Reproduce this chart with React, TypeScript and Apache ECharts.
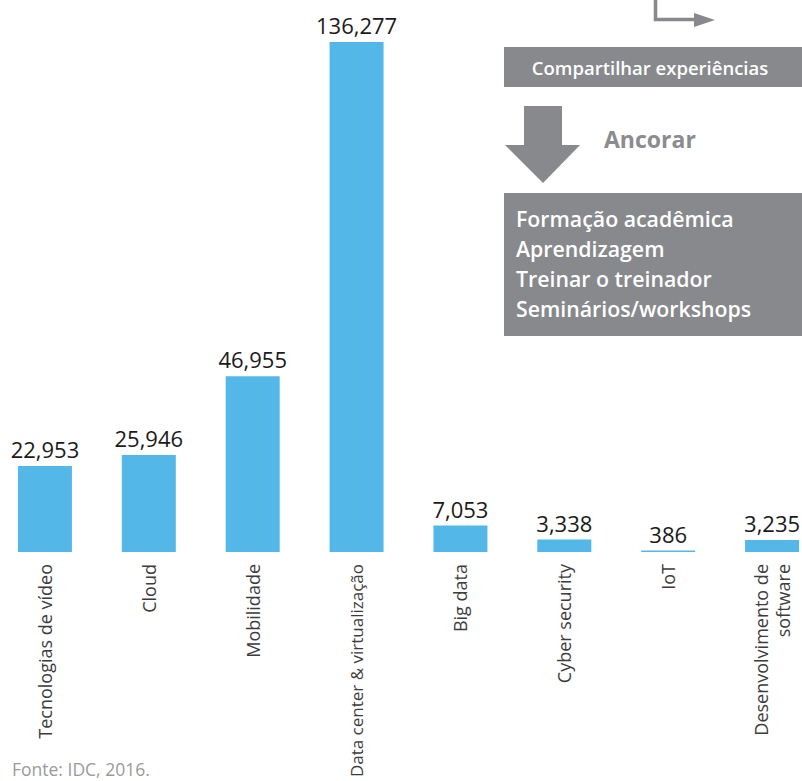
import React, { useEffect, useRef } from "react";
import * as echarts from "echarts";

const categories = [
  "Tecnologias de vídeo",
  "Cloud",
  "Mobilidade",
  "Data center & virtualização",
  "Big data",
  "Cyber security",
  "IoT",
  "Desenvolvimento de\nsoftware",
];
const values = [22953, 25946, 46955, 136277, 7053, 3338, 386, 3235];
const sourceNote = "Fonte: IDC, 2016.";
const boxTopText = "Compartilhar experiências";
const arrowText = "Ancorar";
const boxLines = [
  "Formação acadêmica",
  "Aprendizagem",
  "Treinar o treinador",
  "Seminários/workshops",
];

const GRAY = "#87898c";
const FONT = "'Open Sans', 'Noto Sans', sans-serif";

export default function App() {
  const ref = useRef<HTMLDivElement>(null);
  useEffect(() => {
    if (!ref.current) return;
    const chart = echarts.init(ref.current, undefined, { renderer: "svg" });
    chart.setOption({
      animation: false,
      backgroundColor: "#ffffff",
      grid: {
        left: -7,
        right: -22,
        top: 42,
        bottom: 229,
        containLabel: false,
        outerBoundsMode: "none",
      },
      xAxis: {
        type: "category",
        data: categories,
        axisLine: { show: false },
        axisTick: { show: false },
        axisLabel: {
          rotate: 90,
          margin: 12,
          fontSize: 18,
          color: "#3c3c3c",
          fontFamily: FONT,
          lineHeight: 22,
          interval: 0,
          formatter: (v: string) => (v.length > 24 && v.indexOf("\n") < 0 ? "{s|" + v + "}" : v),
          rich: {
            s: { fontSize: 17, color: "#3c3c3c", fontFamily: FONT },
          },
        },
      },
      yAxis: {
        type: "value",
        min: 0,
        max: 136277,
        show: false,
        splitLine: { show: false },
      },
      series: [
        {
          type: "bar",
          data: values,
          barWidth: 54,
          itemStyle: { color: "#53b8e8" },
          label: {
            show: true,
            position: "top",
            distance: 6,
            fontSize: 22,
            color: "#1a1a1a",
            fontFamily: FONT,
            formatter: (p: any) => Number(p.value).toLocaleString("en-US"),
          },
        },
      ],
      graphic: [
        {
          type: "polyline",
          shape: { points: [[655.5, 0], [655.5, 19.5], [697, 19.5]] },
          style: { stroke: GRAY, lineWidth: 3.5, fill: null },
        },
        {
          type: "polygon",
          shape: { points: [[694, 13], [715, 20], [694, 27]] },
          style: { fill: GRAY },
        },
        {
          type: "rect",
          shape: { x: 504, y: 47, width: 300, height: 40 },
          style: { fill: GRAY },
        },
        {
          type: "text",
          x: 650,
          y: 67,
          style: {
            text: boxTopText,
            fill: "#ffffff",
            fontSize: 18.5,
            fontWeight: 600,
            fontFamily: FONT,
            align: "center",
            verticalAlign: "middle",
          },
        },
        {
          type: "polygon",
          shape: {
            points: [
              [524, 106],
              [562, 106],
              [562, 145],
              [580, 145],
              [543, 183],
              [505, 145],
              [524, 145],
            ],
          },
          style: { fill: GRAY },
        },
        {
          type: "text",
          x: 604,
          y: 139,
          style: {
            text: arrowText,
            fill: "#8a8c8f",
            fontSize: 23,
            fontWeight: "bold",
            fontFamily: FONT,
            align: "left",
            verticalAlign: "middle",
          },
        },
        {
          type: "rect",
          shape: { x: 504, y: 193, width: 300, height: 143 },
          style: { fill: GRAY },
        },
        ...boxLines.map((t, i) => ({
          type: "text",
          x: 516,
          y: 218 + i * 30,
          style: {
            text: t,
            fill: "#ffffff",
            fontSize: 21.3,
            fontWeight: 600,
            fontFamily: FONT,
            align: "left",
            verticalAlign: "middle",
          },
        })),
        {
          type: "text",
          x: 12,
          y: 769,
          style: {
            text: sourceNote,
            fill: "#9a9a9a",
            fontSize: 17.5,
            fontFamily: FONT,
            align: "left",
            verticalAlign: "middle",
          },
        },
      ],
    });
    return () => chart.dispose();
  }, []);
  return (
    <div
      ref={ref}
      style={{ position: "absolute", left: 0, top: 0, width: 802, height: 781 }}
    />
  );
}
